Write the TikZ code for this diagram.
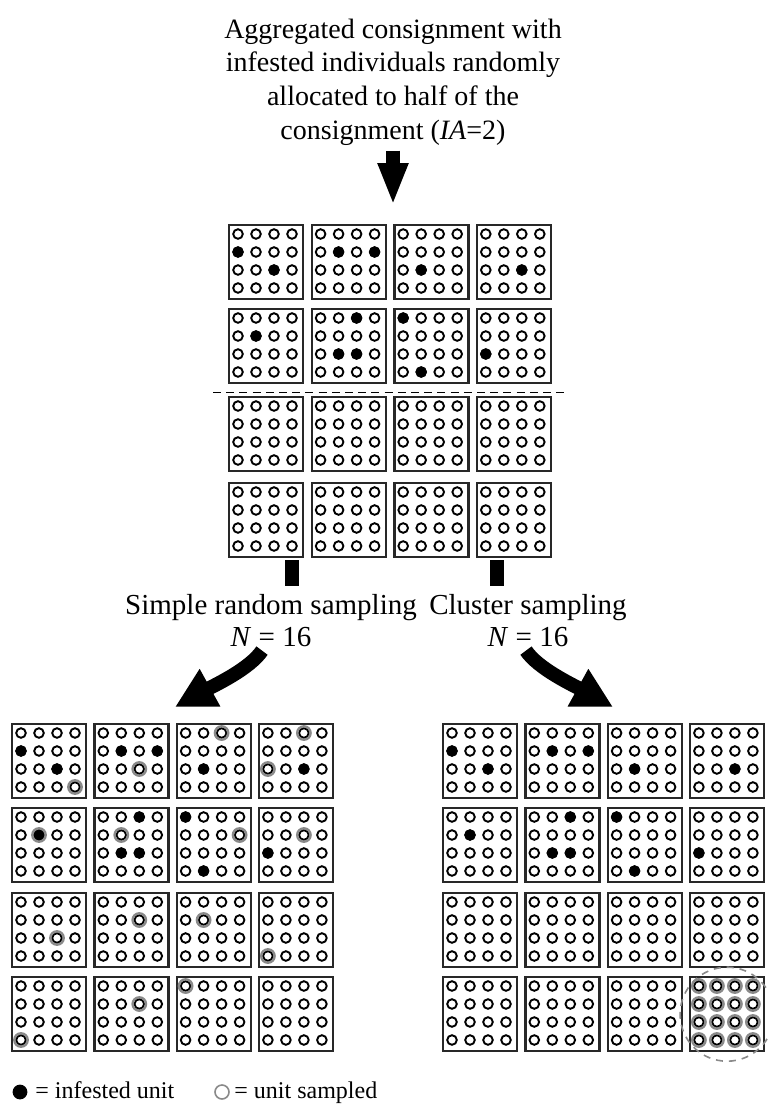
\documentclass[tikz,border=0pt]{standalone}
\usepackage{fontspec}
\setmainfont{Liberation Serif}
\usetikzlibrary{arrows.meta, positioning, calc}
\definecolor{boxLine}{HTML}{282828}
\definecolor{ringGray}{HTML}{8A8A8A}

% a lot of 4x4 units, top left corner at (#2,#3)
\newcommand{\lotbox}[3]{%
  \node[lot, anchor=north west] (#1) at ({#2},{#3}) {};
  \foreach \row in {0,...,3}
    \foreach \col in {0,...,3}
      \draw[unit] ($(#1.north west)+(10+18*\col,10+18*\row)$) circle[radius=4.8];
}

\begin{document}
\begin{tikzpicture}[
    x=0.5pt, y=-0.5pt,
    lot/.style={draw=boxLine, line width=1.2pt, minimum size=37pt, inner sep=0pt},
    unit/.style={draw=black, line width=0.95pt, fill=white},
    infested/.style={fill=black},
    sampled/.style={draw=ringGray, line width=1.2pt},
    heading/.style={font=\fontsize{14}{16.8}\selectfont, align=center, inner sep=0pt},
    method/.style={font=\fontsize{14.5}{16}\selectfont, align=center, inner sep=0pt},
    legendtext/.style={font=\fontsize{12}{14}\selectfont, inner sep=0pt},
    halfline/.style={dashed, dash pattern=on 4pt off 2.6pt, line width=0.75pt},
    clusterring/.style={draw=ringGray, dashed, dash pattern=on 3.5pt off 3pt, line width=0.8pt},
    fatarrow/.style={line width=7pt, -{Triangle[length=21pt, width=14pt]}},
    stub/.style={line width=7pt},
    bendarrow/.style={line width=7pt, -{Triangle[length=20pt, width=20pt]}},
]
\useasboundingbox (0,0) rectangle (767,1104);

% Title
\node[heading] (title) at (393,82)
  {Aggregated consignment with\\infested individuals randomly\\allocated to half of the\\consignment (\textit{IA}=2)};

% Whole consignment
\foreach \i/\y in {1/224, 2/308, 3/396, 4/482}
  \foreach \j in {1,...,4} {
    \lotbox{t\i\j}{228+82.6*(\j-1)}{\y}
  }
\draw[halfline] ($(t21.south west)+(-15,8)$) -- ($(t24.south east)+(17,8)$);
\draw[fatarrow] ($(title.south)+(0,5)$) -- ($(title.south |- t11.north)+(0,-19)$);

% Sampled consignments
\foreach \i/\y in {1/723, 2/807, 3/892, 4/976}
  \foreach \j in {1,...,4} {
    \lotbox{s\i\j}{11+82.3*(\j-1)}{\y}
    \lotbox{c\i\j}{442+82.3*(\j-1)}{\y}
  }

% Infested units, same in all three
\foreach \g in {t,s,c}
  \foreach \b/\row/\col in {11/1/0, 11/2/2, 12/1/1, 12/1/3, 13/2/1, 14/2/2,
                            21/1/1, 22/0/2, 22/2/1, 22/2/2, 23/0/0, 23/3/1, 24/2/0}
    \fill[infested] ($(\g\b.north west)+(10+18*\col,10+18*\row)$) circle[radius=5.6];

% Simple random sampling
\foreach \b/\row/\col in {11/3/3, 12/2/2, 13/0/2, 14/0/2, 14/2/0, 21/1/1, 22/1/1, 23/1/3,
                          24/1/2, 31/2/2, 32/1/2, 33/1/1, 34/3/0, 41/3/0, 42/1/2, 43/0/0}
  \draw[sampled] ($(s\b.north west)+(10+18*\col,10+18*\row)$) circle[radius=6.7];

% Cluster sampling
\foreach \row in {0,...,3}
  \foreach \col in {0,...,3}
    \draw[sampled] ($(c44.north west)+(10+18*\col,10+18*\row)$) circle[radius=6.7];
\draw[clusterring] (c44.center) circle[radius=47];

% Methods
\node[method] (srs) at (271,621) {Simple random sampling\\\textit{N} = 16};
\node[method] (cls) at (528,621) {Cluster sampling\\\textit{N} = 16};
\coordinate (srstip) at (175,707);
\coordinate (clstip) at (613,707);

\draw[stub] ($(t41.south east)+(-12,2)$) -- ++(0,26);
\draw[stub] ($(t44.south west)+(21,2)$) -- ++(0,26);
\draw[bendarrow] ($(srs.south)+(-9,3)$) .. controls ($(srs.south)+(-21,21)$)
  and ($(srstip)+(40,-22)$) .. (srstip);
\draw[bendarrow] ($(cls.south)+(-2,3)$) .. controls ($(cls.south)+(10,21)$)
  and ($(clstip)+(-40,-22)$) .. (clstip);

% Legend
\fill[infested] (20,1092) circle[radius=7.4] coordinate (infdot);
\node[legendtext, anchor=base west] (inftxt) at ($(infdot)+(15,6)$) {= infested unit};
\draw[sampled, line width=0.8pt] (222,1092) circle[radius=7] coordinate (smpdot);
\node[legendtext, anchor=base west] (smptxt) at ($(smpdot)+(12,6)$) {= unit sampled};
\end{tikzpicture}
\end{document}
